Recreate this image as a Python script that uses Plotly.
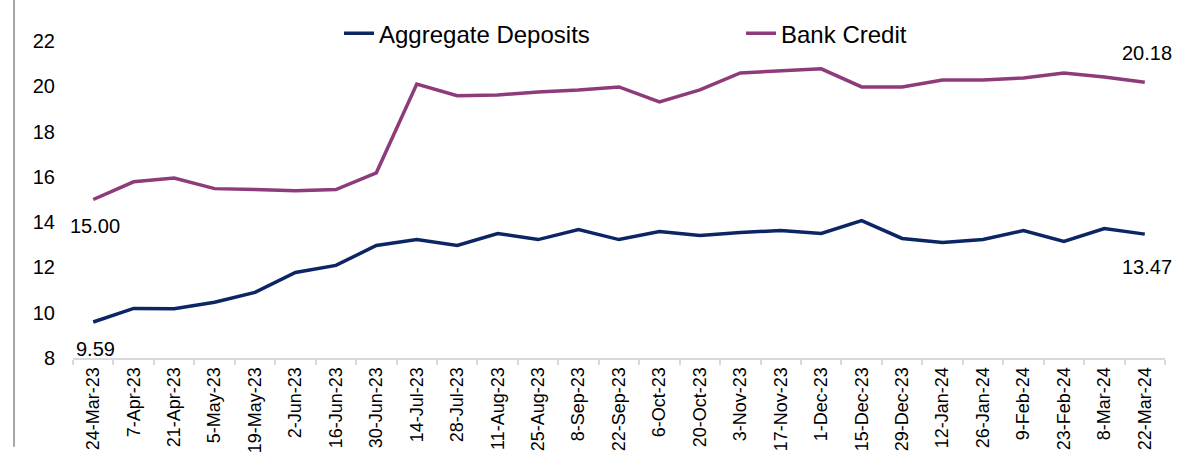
import plotly.graph_objects as go

dates = ["24-Mar-23", "7-Apr-23", "21-Apr-23", "5-May-23", "19-May-23", "2-Jun-23",
         "16-Jun-23", "30-Jun-23", "14-Jul-23", "28-Jul-23", "11-Aug-23", "25-Aug-23",
         "8-Sep-23", "22-Sep-23", "6-Oct-23", "20-Oct-23", "3-Nov-23", "17-Nov-23",
         "1-Dec-23", "15-Dec-23", "29-Dec-23", "12-Jan-24", "26-Jan-24", "9-Feb-24",
         "23-Feb-24", "8-Mar-24", "22-Mar-24"]

aggregate_deposits = [9.59, 10.19, 10.18, 10.46, 10.90, 11.78, 12.09, 12.97, 13.23, 12.97,
                      13.50, 13.23, 13.67, 13.23, 13.59, 13.41, 13.54, 13.63, 13.50, 14.07,
                      13.28, 13.10, 13.23, 13.63, 13.15, 13.72, 13.47]

bank_credit = [15.00, 15.78, 15.95, 15.48, 15.44, 15.39, 15.44, 16.18, 20.10, 19.58,
               19.62, 19.75, 19.84, 19.97, 19.31, 19.84, 20.59, 20.68, 20.77, 19.97,
               19.97, 20.28, 20.28, 20.37, 20.59, 20.41, 20.18]

y_ticks = [8, 10, 12, 14, 16, 18, 20, 22]

NAVY = "#0B2565"
PURPLE = "#8E3B7A"
FONT = "Liberation Sans, Arial, sans-serif"

fig = go.Figure()
fig.add_trace(go.Scatter(x=dates, y=aggregate_deposits, mode="lines", name="Aggregate Deposits",
                         line=dict(color=NAVY, width=3.5)))
fig.add_trace(go.Scatter(x=dates, y=bank_credit, mode="lines", name="Bank Credit",
                         line=dict(color=PURPLE, width=3.5)))

# end-point labels
annos = [
    (dates[0], bank_credit[0], -26),
    (dates[0], aggregate_deposits[0], -27),
    (dates[-1], bank_credit[-1], 29),
    (dates[-1], aggregate_deposits[-1], -33),
]
for x, y, ys in annos:
    fig.add_annotation(x=x, y=y, text=f"{y:.2f}", showarrow=False, yshift=ys, xshift=2,
                       font=dict(family=FONT, size=20, color="#000000"))

# left border line
fig.add_shape(type="line", xref="paper", yref="paper", x0=-0.054, x1=-0.054, y0=-0.28, y1=1.13,
              line=dict(color="#A6A6A6", width=2))

fig.update_layout(
    width=1199, height=455,
    margin=dict(l=73, r=34, t=40, b=97),
    plot_bgcolor="white", paper_bgcolor="white",
    font=dict(family=FONT, color="#000000"),
    showlegend=True,
    legend=dict(orientation="h", x=0.2436, xanchor="left", y=1.02, yanchor="middle",
                font=dict(family=FONT, size=24, color="#000000"),
                entrywidth=357, entrywidthmode="pixels", bgcolor="rgba(0,0,0,0)"),
    xaxis=dict(type="category", showgrid=False, showline=True, linecolor="#D9D9D9", linewidth=2,
               ticks="outside", tickson="boundaries", ticklen=5, tickcolor="#D9D9D9", tickwidth=2,
               tickangle=-90, tickfont=dict(family=FONT, size=18, color="#000000"),
               automargin=False, range=[-0.5, len(dates) - 0.5]),
    yaxis=dict(range=[8, 22], tickvals=y_ticks, showgrid=False, showline=False, zeroline=False,
               ticks="", tickfont=dict(family=FONT, size=20, color="#000000"),
               ticklabelstandoff=17, automargin=False),
)

fig.write_html("out.html")
